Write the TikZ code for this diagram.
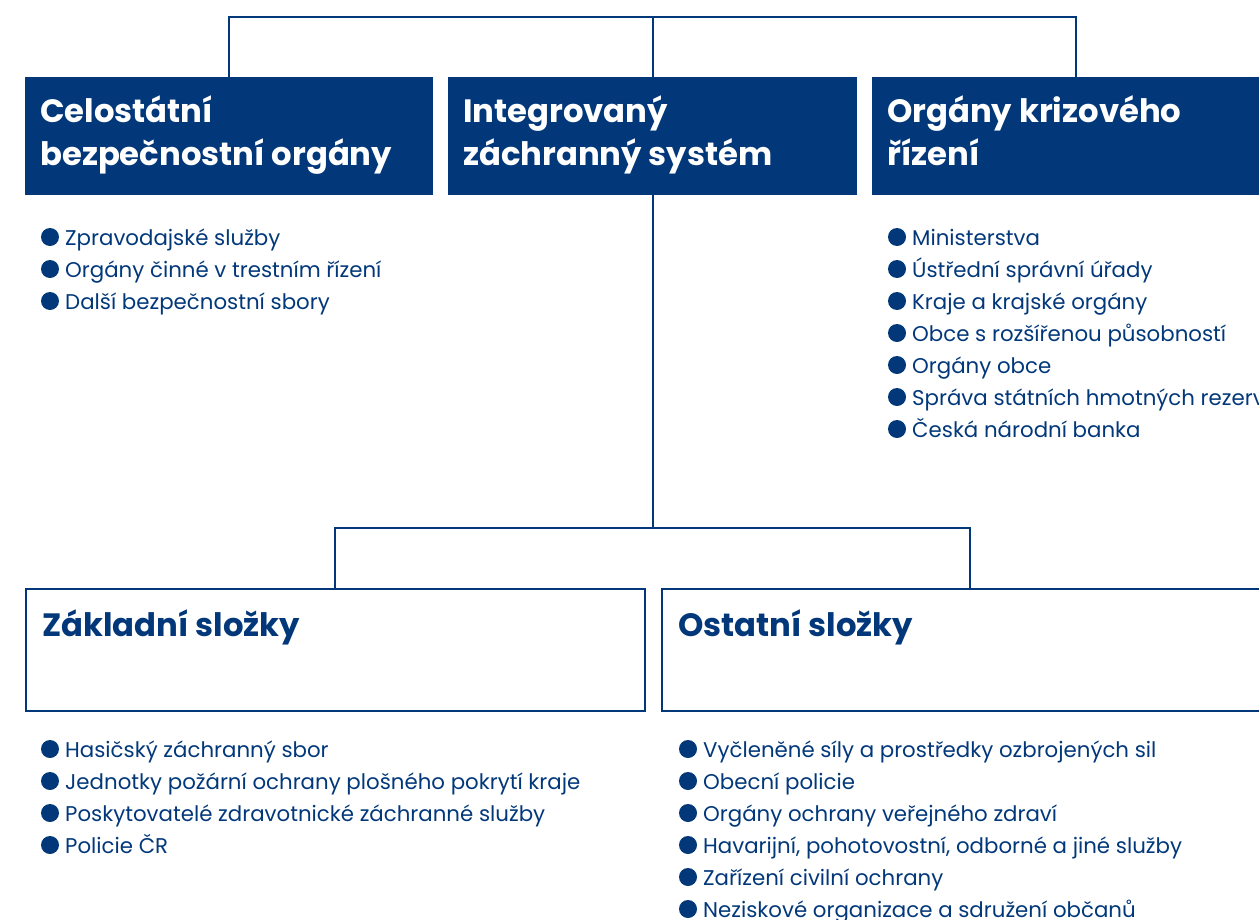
\documentclass[tikz,border=0pt]{standalone}
\usepackage{fontspec}
\setmainfont{Poppins}
\definecolor{navy}{HTML}{02387A}
\begin{document}
\begin{tikzpicture}[x=1bp,y=-1bp,
  line/.style={draw=navy,line width=2bp},
  fillbox/.style={fill=navy,draw=none,anchor=north west,inner sep=0pt},
  outbox/.style={draw=navy,line width=2bp,fill=white,anchor=north west,inner sep=0pt},
  whitehead/.style={anchor=base west,text=white,inner sep=0pt,font=\fontsize{32.4}{40}\selectfont\bfseries},
  bluehead/.style={anchor=base west,text=navy,inner sep=0pt,font=\fontsize{32.4}{40}\selectfont\bfseries},
  item/.style={anchor=base west,text=navy,inner sep=0pt,font=\fontsize{21.4}{24}\selectfont},
  bullet/.style={circle,fill=navy,inner sep=0pt,minimum size=18bp}
]
\useasboundingbox (0,0) rectangle (1259,920);
% top boxes
\node[fillbox,minimum width=408bp,minimum height=118bp] (b1) at (25,77) {};
\node[fillbox,minimum width=409bp,minimum height=118bp] (b2) at (448,77) {};
\node[fillbox,minimum width=420bp,minimum height=118bp] (b3) at (872,77) {};
% bottom boxes
\node[outbox,minimum width=619bp,minimum height=122bp] (b4) at (25,588) {};
\node[outbox,minimum width=620bp,minimum height=122bp] (b5) at (661,588) {};
% connectors
\coordinate (t1) at (229,17);
\coordinate (t3) at (1076,17);
\coordinate (m1) at (335,528);
\coordinate (m2) at (970,528);
\draw[line] (b1.north west -| t1) -- (t1) -- (t3) -- (b3.north west -| t3);
\draw[line] (b2.north) -- (b2.north |- t1);
\draw[line] (b2.south) -- (b2.south |- m1);
\draw[line] (b4.north west -| m1) -- (m1) -- (m2) -- (b5.north west -| m2);
% headers
\node[whitehead] (h1a) at (40,122) {Celostátní};
\node[whitehead] (h1b) at (40,165) {bezpečnostní orgány};
\node[whitehead] (h2a) at (463,122) {Integrovaný};
\node[whitehead] (h2b) at (463,165) {záchranný systém};
\node[whitehead] (h3a) at (887,122) {Orgány krizového};
\node[whitehead] (h3b) at (887,165) {řízení};
\node[bluehead] (h4) at (42,636) {Základní složky};
\node[bluehead] (h5) at (678,636) {Ostatní složky};
% lists
\foreach \t [count=\i from 0] in {Zpravodajské služby,Orgány činné v trestním řízení,Další bezpečnostní sbory}{
  \node[bullet] (p1\i) at (50,237+32*\i) {};
  \node[item] (l1\i) at (65,245+32*\i) {\t};
}
\foreach \t [count=\i from 0] in {Ministerstva,Ústřední správní úřady,Kraje a krajské orgány,Obce s rozšířenou působností,Orgány obce,Správa státních hmotných rezerv,Česká národní banka}{
  \node[bullet] (p3\i) at (897,237+32*\i) {};
  \node[item] (l3\i) at (912,245+32*\i) {\t};
}
\foreach \t [count=\i from 0] in {Hasičský záchranný sbor,Jednotky požární ochrany plošného pokrytí kraje,Poskytovatelé zdravotnické záchranné služby,Policie ČR}{
  \node[bullet] (p4\i) at (50,749+32*\i) {};
  \node[item] (l4\i) at (65,757+32*\i) {\t};
}
\foreach \t [count=\i from 0] in {Vyčleněné síly a prostředky ozbrojených sil,Obecní policie,Orgány ochrany veřejného zdraví,{Havarijní, pohotovostní, odborné a jiné služby},Zařízení civilní ochrany,Neziskové organizace a sdružení občanů}{
  \node[bullet] (p5\i) at (688,749+32*\i) {};
  \node[item] (l5\i) at (703,757+32*\i) {\t};
}
\end{tikzpicture}
\end{document}
